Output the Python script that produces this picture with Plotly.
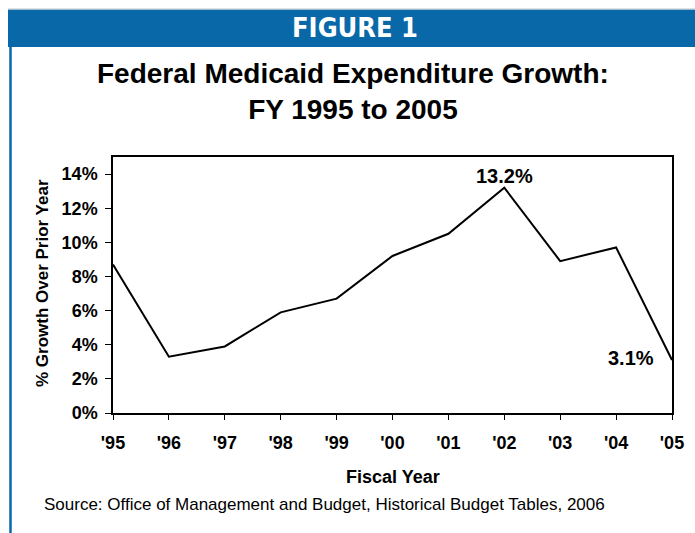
import plotly.graph_objects as go

years = [1995, 1996, 1997, 1998, 1999, 2000, 2001, 2002, 2003, 2004, 2005]
growth = [8.7, 3.3, 3.9, 5.9, 6.7, 9.2, 10.5, 13.2, 8.9, 9.7, 3.1]
tick_labels = ["'95", "'96", "'97", "'98", "'99", "'00", "'01", "'02", "'03", "'04", "'05"]
y_ticks = [0, 2, 4, 6, 8, 10, 12, 14]
y_tick_labels = ["0%", "2%", "4%", "6%", "8%", "10%", "12%", "14%"]

W, H = 695, 533
L, R, T, B = 113, 23, 157, 120
pw, ph = W - L - R, H - T - B

def px(x):
    return (x - L) / pw

def py(y):
    return (H - B - y) / ph

FONT = "Liberation Sans, Arial, sans-serif"
BLUE = "#0868A8"

fig = go.Figure()
fig.add_trace(go.Scatter(x=years, y=growth, mode="lines",
                         line=dict(color="black", width=2), hoverinfo="skip"))

fig.update_layout(
    width=W, height=H,
    margin=dict(l=L, r=R, t=T, b=B),
    paper_bgcolor="white", plot_bgcolor="white",
    showlegend=False,
    font=dict(family=FONT, color="black"),
    xaxis=dict(range=[1995, 2005], tickvals=years, ticktext=tick_labels,
               showgrid=False, zeroline=False, showline=True, linecolor="black",
               linewidth=1.5, mirror=True, ticks="outside", ticklen=5,
               tickcolor="black", tickwidth=1,
               tickfont=dict(size=18, family=FONT, weight="bold"),
               ticklabelstandoff=8),
    yaxis=dict(range=[0, 15], tickvals=y_ticks, ticktext=y_tick_labels,
               showgrid=False, zeroline=False, showline=True, linecolor="black",
               linewidth=1.5, mirror=True, ticks="outside", ticklen=6,
               tickcolor="black", tickwidth=1,
               tickfont=dict(size=18, family=FONT, weight="bold"),
               ticklabelstandoff=4),
)

shapes = [
    dict(type="rect", xref="paper", yref="paper", x0=px(8), x1=px(700), y0=py(47), y1=py(9.5),
         fillcolor=BLUE, line=dict(width=0), layer="above"),
    dict(type="line", xref="paper", yref="paper", x0=px(8), x1=px(700), y0=py(9), y1=py(9),
         line=dict(color="#b8c4cc", width=1)),
    dict(type="line", xref="paper", yref="paper", x0=px(10.5), x1=px(10.5), y0=py(47), y1=py(540),
         line=dict(color=BLUE, width=2.5)),
]
fig.update_layout(shapes=shapes)

ann = [
    dict(text="<b>FIGURE 1</b>", x=px(355), y=py(27.5), font=dict(size=27, color="white",
         family="DejaVu Sans Condensed, Liberation Sans, Arial")),
    dict(text="<b>Federal Medicaid Expenditure Growth:<br>FY 1995 to 2005</b>", x=px(353), y=py(91),
         font=dict(size=28, family=FONT)),
    dict(text="<b>% Growth Over Prior Year</b>", x=px(42), y=py(283), textangle=-90,
         font=dict(size=17, family=FONT)),
    dict(text="<b>Fiscal Year</b>", x=px(393), y=py(477), font=dict(size=18, family=FONT)),
    dict(text="Source: Office of Management and Budget, Historical Budget Tables, 2006",
         x=px(42), y=py(504.5), xanchor="left", font=dict(size=17, family=FONT)),
]
for a in ann:
    a.setdefault("xanchor", "center")
    a.update(xref="paper", yref="paper", yanchor="middle", showarrow=False)
fig.update_layout(annotations=ann)

fig.add_annotation(x=years[7], y=growth[7], text="<b>13.2%</b>", showarrow=False,
                   yanchor="middle", yshift=12, font=dict(size=20, family=FONT))
fig.add_annotation(x=years[10], y=growth[10], text="<b>3.1%</b>", showarrow=False,
                   xanchor="right", yanchor="middle", xshift=-16, yshift=2,
                   font=dict(size=20, family=FONT))

fig.write_html("out.html")
